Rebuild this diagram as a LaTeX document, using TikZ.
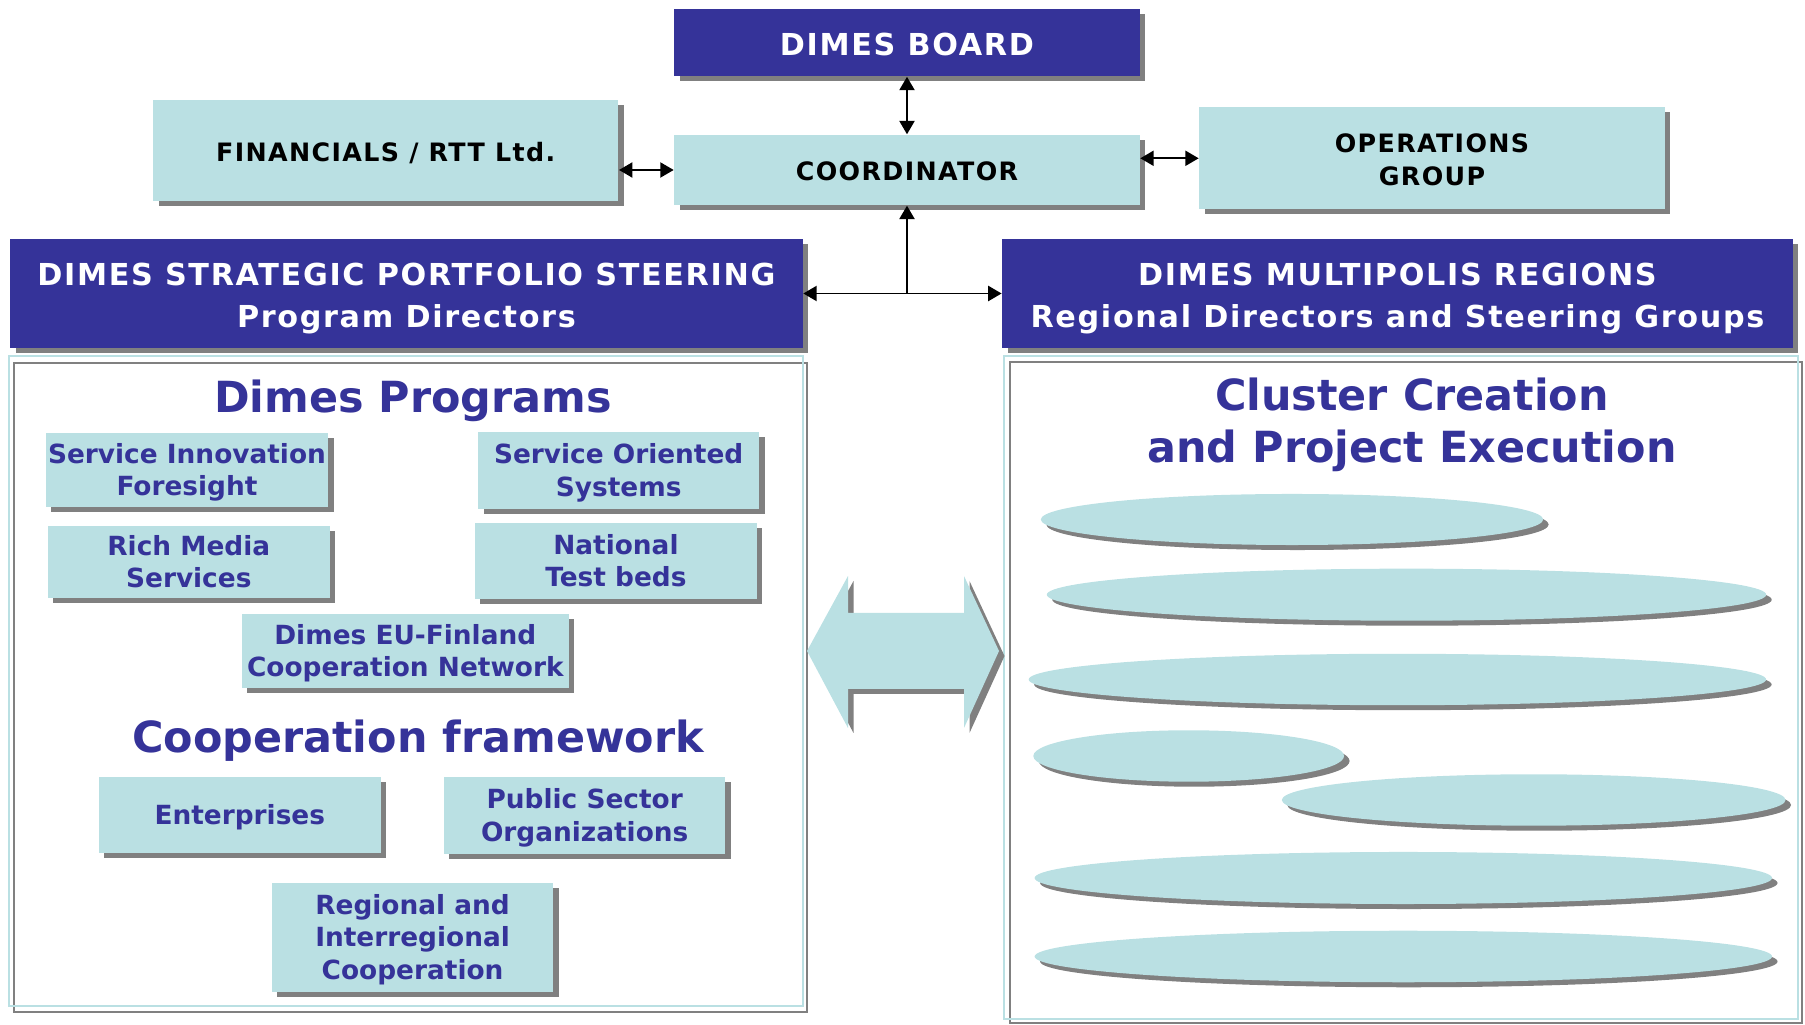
\documentclass[tikz,border=0pt]{standalone}
\usepackage{fontspec}
\setmainfont{DejaVu Sans}
\usepackage{tikz}
\usetikzlibrary{shapes.geometric,shadows,arrows.meta}
\definecolor{dimesblue}{RGB}{53,51,153}
\definecolor{dimeslight}{RGB}{186,224,227}
\definecolor{dimesgray}{RGB}{128,128,128}

\begin{document}
\begin{tikzpicture}[x=0.01cm,y=-0.01cm,
  boxshadow/.style={drop shadow={shadow xshift=0.055cm,shadow yshift=-0.05cm,fill=dimesgray,opacity=1}},
  % text block kept centred on the capitals, whatever the lines hold
  darkbox/.style={rectangle,fill=dimesblue,text=white,boxshadow,inner sep=0pt,align=center,
    font=\bfseries\fontsize{8.6}{12}\selectfont\addfontfeatures{LetterSpace=5.5},
    text depth=2.15pt,text height={9.5pt+(#1-1)*12pt}},
  darkbox/.default=1,
  topbox/.style={rectangle,fill=dimeslight,text=black,boxshadow,inner sep=0pt,align=center,
    font=\bfseries\fontsize{7.2}{9.2}\selectfont\addfontfeatures{LetterSpace=5.4},
    text depth=1.8pt,text height={7.85pt+(#1-1)*9.2pt}},
  topbox/.default=1,
  progbox/.style={rectangle,fill=dimeslight,text=dimesblue,boxshadow,inner sep=0pt,align=center,
    font=\bfseries\fontsize{7.5}{9.2}\selectfont,text depth=1.88pt,text height={7.35pt+(#1-1)*9.2pt}},
  progbox/.default=1,
  cluster/.style={ellipse,fill=dimeslight,boxshadow,inner sep=0pt},
  heading/.style={text=dimesblue,align=center,inner sep=0pt,font=\bfseries\fontsize{12.2}{14.7}\selectfont},
  panelline/.style={line width=0.6pt},
  link/.style={line width=0.5pt,<->},
  >={Triangle[length=3.8pt,width=4.3pt]}]
\useasboundingbox (0,0) rectangle (1805,1025);

% top of the organisation
\node[darkbox,minimum width=4.65cm,minimum height=0.67cm] (board) at (907,42.6) {DIMES BOARD};
\node[topbox,minimum width=4.65cm,minimum height=0.70cm] (coord) at (907,170) {COORDINATOR};
\node[topbox,minimum width=4.65cm,minimum height=1.01cm] (fin) at (385.7,150.8) {FINANCIALS / RTT Ltd.};
\node[topbox=2,minimum width=4.65cm,minimum height=1.02cm] (ops) at (1432,158.3) {OPERATIONS\\GROUP};
\node[darkbox=2,minimum width=7.92cm,minimum height=1.08cm] (strat) at (406.4,293.5) {DIMES STRATEGIC PORTFOLIO STEERING\\Program Directors};
\node[darkbox=2,minimum width=7.90cm,minimum height=1.08cm] (multi) at (1397.5,293.5) {DIMES MULTIPOLIS REGIONS\\Regional Directors and Steering Groups};

\draw[link] (board.south) -- (coord.north);
\draw[link] (fin.east |- coord.west) -- (coord.west);
\draw[link] (coord.east |- ops.west) -- (ops.west);
\coordinate (hub) at (coord.south |- strat.east);
\draw[link] (strat.east) -- (multi.west);
\draw[line width=0.5pt,->] (hub) -- (coord.south);

% the two panels
\draw[panelline,dimesgray] (14,363) rectangle (807,1012);
\draw[panelline,dimeslight] (9,356) rectangle (803,1006);
\draw[panelline,dimesgray] (1010,362) rectangle (1802,1023);
\draw[panelline,dimeslight] (1004,356) rectangle (1798,1019);

% programs
\node[heading,anchor=base] (progtitle) at (413,413) {Dimes Programs};
\node[progbox=2,minimum width=2.82cm,minimum height=0.73cm] (sif) at (187,470) {Service Innovation\\Foresight};
\node[progbox=2,minimum width=2.81cm,minimum height=0.77cm] (sos) at (618.7,470.5) {Service Oriented\\Systems};
\node[progbox=2,minimum width=2.815cm,minimum height=0.717cm] (rms) at (188.8,561.8) {Rich Media\\Services};
\node[progbox=2,minimum width=2.82cm,minimum height=0.757cm] (ntb) at (615.9,560.8) {National\\Test beds};
\node[progbox=2,minimum width=3.265cm,minimum height=0.737cm] (eufi) at (405.3,650.8) {Dimes EU-Finland\\Cooperation Network};

% cooperation
\node[heading,anchor=base] (cooptitle) at (418,753) {Cooperation framework};
\node[progbox,minimum width=2.82cm,minimum height=0.757cm] (ent) at (239.8,814.8) {Enterprises};
\node[progbox=2,minimum width=2.814cm,minimum height=0.764cm] (pso) at (584.7,815.5) {Public Sector\\Organizations};
\node[progbox=3,minimum width=2.813cm,minimum height=1.087cm] (ric) at (412.6,937.3) {Regional and\\Interregional\\Cooperation};

% big double arrow
\path[fill=dimeslight,boxshadow] (807,651) -- (848,576) -- (848,613) -- (964,613) -- (964,576) -- (999,651)
  -- (964,728) -- (964,689) -- (848,689) -- (848,728) -- cycle;

% clusters
\node[heading] (clustertitle) at (1412,425) {Cluster Creation\\and Project Execution};
\node[cluster,minimum width=5.02cm,minimum height=0.51cm] (c1) at (1292,519.5) {};
\node[cluster,minimum width=7.19cm,minimum height=0.52cm] (c2) at (1406.5,594.7) {};
\node[cluster,minimum width=7.37cm,minimum height=0.514cm] (c3) at (1397.4,679.5) {};
\node[cluster,minimum width=3.106cm,minimum height=0.514cm] (c4) at (1188.7,756) {};
\node[cluster,minimum width=5.035cm,minimum height=0.514cm] (c5) at (1533.7,800) {};
\node[cluster,minimum width=7.37cm,minimum height=0.52cm] (c6) at (1403.3,878) {};
\node[cluster,minimum width=7.37cm,minimum height=0.515cm] (c7) at (1403.3,956.5) {};
\end{tikzpicture}
\end{document}
